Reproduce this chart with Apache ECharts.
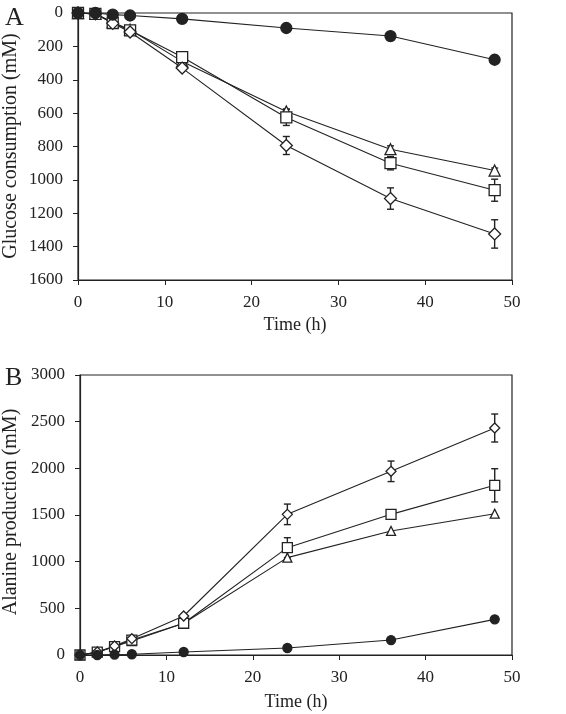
<!DOCTYPE html>
<html><head><meta charset="utf-8">
<script src="https://cdn.jsdelivr.net/npm/echarts@6/dist/echarts.min.js"></script>
<style>html,body{margin:0;padding:0;background:#fff}#c{width:566px;height:714px}</style>
</head><body><div id="c"></div>
<script>
const time = [0, 2, 4, 6, 12, 24, 36, 48];
const xTicks = [0, 10, 20, 30, 40, 50];
const yTitleA = 'Glucose consumption (mM)';
const yTitleB = 'Alanine production (mM)';

// Panel A: glucose consumption (mM)
const glcCircle   = [0, 0, 10, 15, 35, 90, 138, 280];
const glcTriangle = [0, 5, 55, 100, 290, 590, 816, 944];
const glcSquare   = [0, 5, 60, 104, 264, 626, 900, 1062];
const glcDiamond  = [0, 5, 62, 114, 330, 794, 1112, 1324];
const glcCircleErr   = [0, 0, 0, 0, 0, 0, 0, 0];
const glcTriangleErr = [0, 0, 0, 0, 0, 15, 20, 15];
const glcSquareErr   = [0, 0, 0, 0, 0, 48, 40, 66];
const glcDiamondErr  = [0, 0, 0, 0, 0, 54, 64, 85];

// Panel B: alanine production (mM)
const alaCircle   = [0, 0, 5, 8, 32, 75, 160, 382];
const alaTriangle = [0, 30, 90, 150, 340, 1043, 1329, 1514];
const alaSquare   = [0, 30, 90, 160, 340, 1150, 1507, 1818];
const alaDiamond  = [0, 32, 96, 175, 418, 1507, 1968, 2432];
const alaCircleErr   = [0, 0, 0, 0, 0, 0, 0, 30];
const alaTriangleErr = [0, 0, 0, 0, 0, 0, 0, 0];
const alaSquareErr   = [0, 0, 0, 0, 0, 107, 0, 178];
const alaDiamondErr  = [0, 0, 0, 0, 0, 110, 110, 150];

const FONT = 'Liberation Serif';
const INK = '#222';

function pts(ys){ return time.map((t,i)=>[t, ys[i]]); }
function errs(ys, es){ return time.map((t,i)=>[t, ys[i]-es[i], ys[i]+es[i]]).filter((d,i)=>es[i]>0); }

function lineSeries(idx, ys, symbol, size, filled){
  return {
    type:'line', xAxisIndex:idx, yAxisIndex:idx, data:pts(ys),
    symbol:symbol, symbolSize:size, showAllSymbol:true,
    lineStyle:{color:INK, width:1.1},
    itemStyle:{color: filled ? INK : '#fff', borderColor:INK, borderWidth:1.3},
    z: 3, animation:false
  };
}
function errSeries(idx, ys, es){
  return {
    type:'custom', xAxisIndex:idx, yAxisIndex:idx, data:errs(ys, es), z:2, animation:false,
    renderItem:function(params, api){
      const x = api.value(0);
      const lo = api.coord([x, api.value(1)]);
      const hi = api.coord([x, api.value(2)]);
      const w = 3.5;
      const st = {stroke:INK, lineWidth:1.4};
      return {type:'group', children:[
        {type:'line', shape:{x1:lo[0],y1:lo[1],x2:hi[0],y2:hi[1]}, style:st},
        {type:'line', shape:{x1:lo[0]-w,y1:lo[1],x2:lo[0]+w,y2:lo[1]}, style:st},
        {type:'line', shape:{x1:hi[0]-w,y1:hi[1],x2:hi[0]+w,y2:hi[1]}, style:st}
      ]};
    }
  };
}

function xAxis(idx, margin, gap){
  return {
    type:'value', gridIndex:idx, min:xTicks[0], max:xTicks[xTicks.length-1], interval:10,
    position:'bottom',
    name:'Time (h)', nameLocation:'middle', nameGap:gap,
    nameTextStyle:{fontFamily:FONT, fontSize:18, color:INK},
    axisLine:{onZero:false, lineStyle:{color:INK, width:1.2}},
    axisTick:{show:true, inside:false, length:5, lineStyle:{color:INK}},
    axisLabel:{fontFamily:FONT, fontSize:17, color:INK, margin:margin},
    splitLine:{show:false}
  };
}
function yAxis(idx, max, interval, inverse){
  return {
    type:'value', gridIndex:idx, min:0, max:max, interval:interval, inverse:inverse,
    axisLine:{show:true, onZero:false, lineStyle:{color:INK, width:1.2}},
    axisTick:{show:true, inside:false, length:5, lineStyle:{color:INK}},
    axisLabel:{fontFamily:FONT, fontSize:17, color:INK, margin:15, formatter:function(v){return String(v);}},
    splitLine:{show:false}
  };
}
function yTitle(text, cx, cy){
  return {
    type:'text', x:cx, y:cy, rotation:Math.PI/2,
    style:{text:text, fontFamily:FONT, fontSize:20, fill:INK, align:'center', verticalAlign:'middle'}
  };
}

const chart = echarts.init(document.getElementById('c'), null, {renderer:'canvas'});
chart.setOption({
  backgroundColor:'#fff',
  animation:false,
  title:[
    {text:'A', left:0, top:0, textStyle:{fontFamily:FONT, fontSize:26, fontWeight:'normal', color:INK}},
    {text:'B', left:0, top:360, textStyle:{fontFamily:FONT, fontSize:26, fontWeight:'normal', color:INK}}
  ],
  graphic:[
    yTitle(yTitleA, 11, 146),
    yTitle(yTitleB, 11, 512)
  ],
  grid:[
    {left:78, right:54, top:13, height:267, containLabel:false, outerBoundsMode:'none', show:true, borderColor:INK, borderWidth:1.2, backgroundColor:'transparent'},
    {left:80, right:54, top:375, height:280, containLabel:false, outerBoundsMode:'none', show:true, borderColor:INK, borderWidth:1.2, backgroundColor:'transparent'}
  ],
  xAxis:[xAxis(0, 14, 36), xAxis(1, 14, 38)],
  yAxis:[
    yAxis(0, 1600, 200, true),
    yAxis(1, 3000, 500, false)
  ],
  series:[
    errSeries(0, glcTriangle, glcTriangleErr),
    errSeries(0, glcSquare, glcSquareErr),
    errSeries(0, glcDiamond, glcDiamondErr),
    lineSeries(0, glcTriangle, 'triangle', 11, false),
    lineSeries(0, glcSquare, 'rect', 11, false),
    lineSeries(0, glcDiamond, 'diamond', 12, false),
    lineSeries(0, glcCircle, 'circle', 11, true),
    errSeries(1, alaCircle, alaCircleErr),
    errSeries(1, alaSquare, alaSquareErr),
    errSeries(1, alaDiamond, alaDiamondErr),
    lineSeries(1, alaTriangle, 'triangle', 9, false),
    lineSeries(1, alaSquare, 'rect', 10, false),
    lineSeries(1, alaDiamond, 'diamond', 10, false),
    lineSeries(1, alaCircle, 'circle', 9, true)
  ]
});
</script></body></html>
